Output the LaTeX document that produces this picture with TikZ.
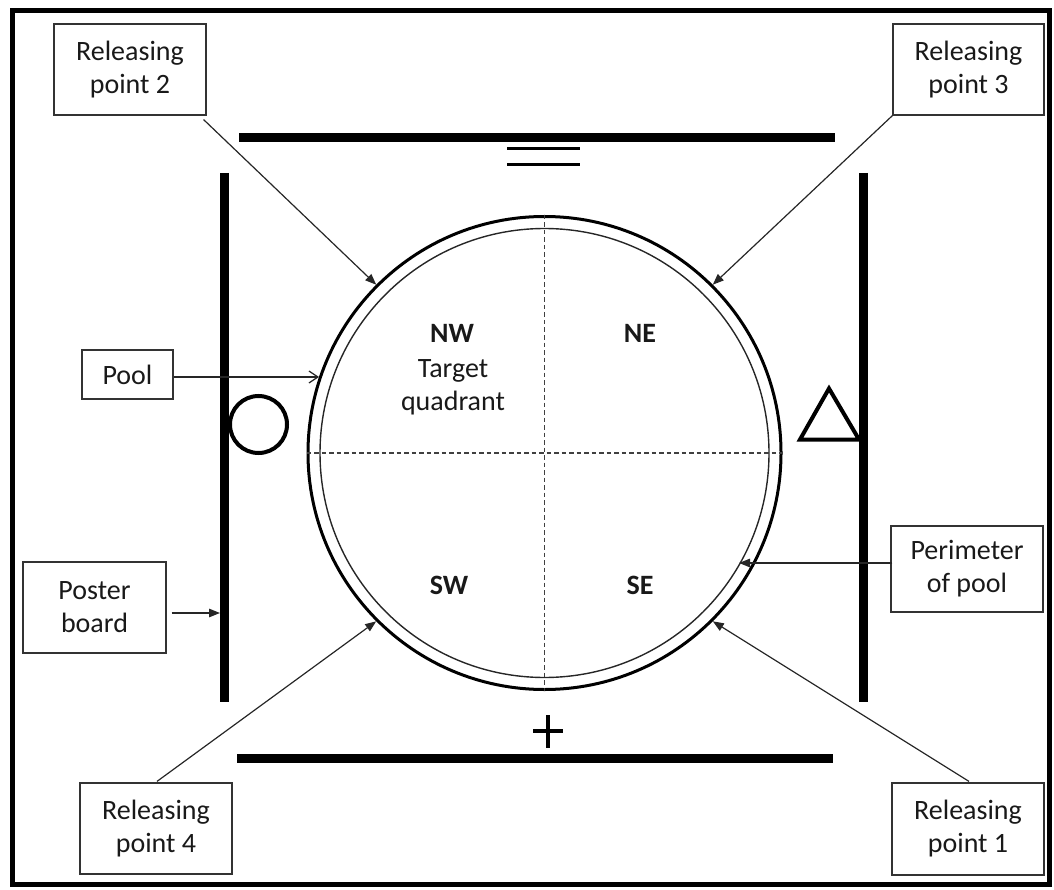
\documentclass[tikz,border=0pt]{standalone}
\usepackage{fontspec}
\setmainfont{Carlito}
\usetikzlibrary{arrows.meta}
\newcommand\labelfont{\fontsize{28}{33}\selectfont}
\begin{document}
\begin{tikzpicture}[x=1pt,y=-1pt,
  lbl/.style={draw=black!80, line width=1.2pt, inner sep=0pt, align=center,
    font=\labelfont, text=black!90},
  wall/.style={line width=8.5pt, line cap=butt},
  sym/.style={line width=4pt},
  conn/.style={line width=1.2pt, black!85, -{Triangle[length=11pt,width=8.5pt]}},
  inner/.style={font=\labelfont, anchor=base, inner sep=0pt, text=black!90},
  bold/.style={inner, font=\labelfont\bfseries},
  quad/.style={line width=1.1pt, black!75, dash pattern=on 4.5pt off 3pt}]
\useasboundingbox (0,0) rectangle (1054,890);
% outer frame
\draw[line width=5pt] (12.5,10.5) rectangle (1049.5,884.5);

% walls around the pool
\draw[wall] (239,137.5) -- (835,137.5);
\draw[wall] (237,758.5) -- (833,758.5);
\draw[wall] (224.5,173) -- (224.5,702);
\draw[wall] (863.5,173) -- (863.5,702);

% visual cues on the walls
\draw[line width=3pt] (507,149) -- (580,149) (507,165) -- (580,165);
\draw[line width=4.5pt] (533,731) -- (563,731) (548,715) -- (548,748);
\draw[sym, line join=miter] (829,388.5) -- (859,439.5) -- (800,439.5) -- cycle;
\draw[sym] (258.5,424.5) circle (28.5);

% the pool
\node[circle, draw, line width=3pt, minimum size=473pt, inner sep=0pt] (pool) at (544.5,453) {};
\node[circle, draw, line width=1.4pt, black!85, minimum size=449pt, inner sep=0pt] (rim) at (544.5,453) {};
\draw[quad] (pool.west) -- (pool.east);
\draw[quad] (pool.north) -- (pool.south);

% quadrant names
\node[bold] (nw) at (452,342) {NW};
\node[inner] (tg) at (453,377) {Target};
\node[inner] (qd) at (453,410) {quadrant};
\node[bold] (ne) at (640,342) {NE};
\node[bold] (sw) at (449,594) {SW};
\node[bold] (se) at (640,594) {SE};

% labels
\node[lbl, minimum width=152pt, minimum height=91pt] (rp2) at (130,69.5) {Releasing\\point 2};
\node[lbl, minimum width=151pt, minimum height=91pt] (rp3) at (968.5,69.5) {Releasing\\point 3};
\node[lbl, minimum width=152pt, minimum height=91pt] (rp4) at (156,828.5) {Releasing\\point 4};
\node[lbl, minimum width=152pt, minimum height=92pt] (rp1) at (968,829) {Releasing\\point 1};
\node[lbl, minimum width=91pt, minimum height=49pt] (poollbl) at (127.5,374.5) {Pool};
\node[lbl, minimum width=143pt, minimum height=91pt] (poster) at (94.5,607.5) {Poster\\board};
\node[lbl, minimum width=152pt, minimum height=86pt] (perim) at (967,569) {Perimeter\\of pool};

% arrow targets
\coordinate (tpool) at (319,377);
\coordinate (tposter) at (220,613);
\coordinate (tperim) at (739,563);

% connectors
\draw[conn] (rp2.south east) ++(-3,4) -- (pool.135);
\draw[conn] (rp3.south west) -- (pool.45);
\draw[conn] (rp4.north) ++(1,-1) -- (pool.-135);
\draw[conn] (rp1.north) ++(1,-1) -- (pool.-45);
\draw[line width=1.2pt, black!85, -{Straight Barb[length=9pt,width=12pt]}] (poollbl.east |- tpool) -- (tpool);
\draw[conn] (poster.east |- tposter) ++(5,0) -- (tposter);
\draw[conn] (perim.west |- tperim) ++(2,0) -- (tperim);
\end{tikzpicture}
\end{document}
